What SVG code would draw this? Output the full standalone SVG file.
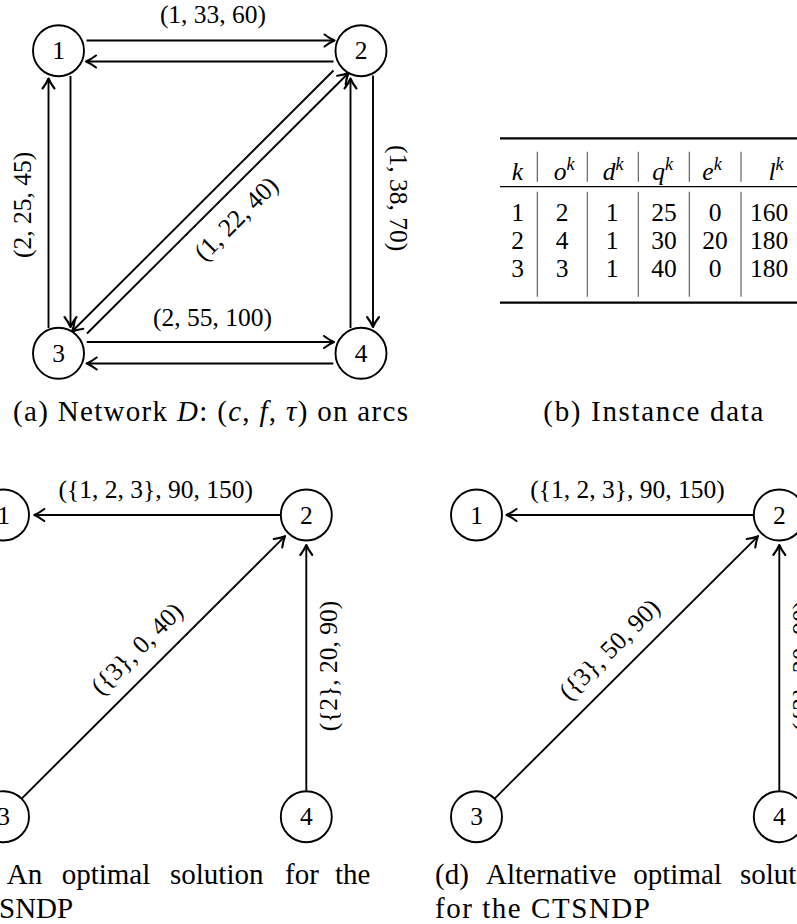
<svg xmlns="http://www.w3.org/2000/svg" width="797" height="924" viewBox="0 0 797 924">
<style>
.node circle{fill:#fff;stroke:#000;stroke-width:1.9}
text{font-family:"Liberation Serif","Times New Roman",serif;fill:#000}
.nl{font-size:25.5px;text-anchor:middle}
.lbl{font-size:25.5px;text-anchor:middle}
.cap{font-size:29px}
.tb{font-size:25.5px;text-anchor:middle}
.sup{font-size:18px}
.i{font-style:italic}
.e{fill:none;stroke:#000;stroke-width:1.9;marker-end:url(#arr)}
.sep{stroke:#555;stroke-width:1.1}
</style>
<defs>
<marker id="arr" markerUnits="userSpaceOnUse" orient="auto" refX="0" refY="0" markerWidth="16" markerHeight="18" viewBox="-13 -9 16 18" overflow="visible">
<path d="M-10,-6 Q-4.5,-1.8 0,0 Q-4.5,1.8 -10,6" fill="none" stroke="#000" stroke-width="2.1" stroke-linecap="round" stroke-linejoin="round"/>
</marker>
</defs>
<rect width="797" height="924" fill="#fff"/>

<!-- Panel (a) -->
<g id="a-edges">
<path class="e" d="M86.5,40.5 L334.5,40.5"/>
<path class="e" d="M333.5,61.5 L86,61.5"/>
<path class="e" d="M86.7,342 L334,342"/>
<path class="e" d="M333.3,363.5 L86.7,363.5"/>
<path class="e" d="M48.5,328 L48.5,78.5"/>
<path class="e" d="M70.5,76 L70.5,327"/>
<path class="e" d="M350.5,328 L350.5,78.5"/>
<path class="e" d="M373,75.5 L373,327"/>
<path class="e" d="M333.5,70.5 L72,331.5"/>
<path class="e" d="M87,333.5 L348.5,73"/>
</g>
<g id="a-n1" class="node"><circle cx="58.5" cy="50.7" r="25.5"/><text class="nl" x="58.5" y="59.3">1</text></g>
<g id="a-n2" class="node"><circle cx="361" cy="50.7" r="25.5"/><text class="nl" x="361" y="59.3">2</text></g>
<g id="a-n3" class="node"><circle cx="58.5" cy="353.3" r="25.5"/><text class="nl" x="58.5" y="361.9">3</text></g>
<g id="a-n4" class="node"><circle cx="361" cy="353.3" r="25.5"/><text class="nl" x="361" y="361.9">4</text></g>
<g id="a-labels">
<text class="lbl" x="213" y="22.5">(1, 33, 60)</text>
<text class="lbl" x="212.5" y="325.5">(2, 55, 100)</text>
<text class="lbl" transform="translate(30.5,205) rotate(-90)">(2, 25, 45)</text>
<text class="lbl" transform="translate(389.5,198) rotate(90)">(1, 38, 70)</text>
<text class="lbl" transform="translate(237.5,220) rotate(-45)" y="6.5">(1, 22, 40)</text>
</g>
<text class="cap" x="13" y="421" textLength="395" lengthAdjust="spacing">(a) Network <tspan class="i">D</tspan>: (<tspan class="i">c</tspan>, <tspan class="i">f</tspan>, <tspan class="i">τ</tspan>) on arcs</text>

<!-- Panel (b) table -->
<g id="b-table">
<line x1="500" y1="138.3" x2="800" y2="138.3" stroke="#000" stroke-width="2.2"/>
<line x1="500" y1="186.7" x2="800" y2="186.7" stroke="#000" stroke-width="1.3"/>
<line x1="500" y1="302.7" x2="800" y2="302.7" stroke="#000" stroke-width="2.2"/>
<g class="sep">
<line x1="537.3" y1="151.7" x2="537.3" y2="181.7"/><line x1="587.3" y1="151.7" x2="587.3" y2="181.7"/><line x1="638.3" y1="151.7" x2="638.3" y2="181.7"/><line x1="689.3" y1="151.7" x2="689.3" y2="181.7"/><line x1="741" y1="151.7" x2="741" y2="181.7"/>
<line x1="537.3" y1="191.7" x2="537.3" y2="296.7"/><line x1="587.3" y1="191.7" x2="587.3" y2="296.7"/><line x1="638.3" y1="191.7" x2="638.3" y2="296.7"/><line x1="689.3" y1="191.7" x2="689.3" y2="296.7"/><line x1="741" y1="191.7" x2="741" y2="296.7"/>
</g>
<text class="tb i" x="517.5" y="180">k</text>
<text class="tb" x="564" y="180"><tspan class="i">o</tspan><tspan class="i sup" dy="-10">k</tspan></text>
<text class="tb" x="613" y="180"><tspan class="i">d</tspan><tspan class="i sup" dy="-10">k</tspan></text>
<text class="tb" x="662.5" y="180"><tspan class="i">q</tspan><tspan class="i sup" dy="-10">k</tspan></text>
<text class="tb" x="712" y="180"><tspan class="i">e</tspan><tspan class="i sup" dy="-10">k</tspan></text>
<text class="tb" x="776" y="180"><tspan class="i">l</tspan><tspan class="i sup" dy="-10">k</tspan></text>
<text class="tb" x="517.5" y="221">1</text><text class="tb" x="562" y="221">2</text><text class="tb" x="612" y="221">1</text><text class="tb" x="664" y="221">25</text><text class="tb" x="715" y="221">0</text><text class="tb" x="769" y="221">160</text>
<text class="tb" x="517.5" y="249">2</text><text class="tb" x="562" y="249">4</text><text class="tb" x="612" y="249">1</text><text class="tb" x="664" y="249">30</text><text class="tb" x="715" y="249">20</text><text class="tb" x="769" y="249">180</text>
<text class="tb" x="517.5" y="277">3</text><text class="tb" x="562" y="277">3</text><text class="tb" x="612" y="277">1</text><text class="tb" x="664" y="277">40</text><text class="tb" x="715" y="277">0</text><text class="tb" x="769" y="277">180</text>
</g>
<text class="cap" x="543.3" y="421" textLength="220" lengthAdjust="spacing">(b) Instance data</text>

<!-- Panel (c) -->
<g id="c-edges">
<path class="e" d="M280.5,515 L34.3,515"/>
<path class="e" d="M21.9,798.3 L285.1,536.2"/>
<path class="e" d="M306.3,790.7 L306.3,545"/>
</g>
<g id="c-n1" class="node"><circle cx="3.5" cy="515" r="25.5"/><text class="nl" x="3.5" y="523.6">1</text></g>
<g id="c-n2" class="node"><circle cx="306.3" cy="515" r="25.5"/><text class="nl" x="306.3" y="523.6">2</text></g>
<g id="c-n3" class="node"><circle cx="3.5" cy="816.7" r="25.5"/><text class="nl" x="3.5" y="825.3">3</text></g>
<g id="c-n4" class="node"><circle cx="306.3" cy="816.7" r="25.5"/><text class="nl" x="306.3" y="825.3">4</text></g>
<g id="c-labels">
<text class="lbl" x="155.8" y="498">({1, 2, 3}, 90, 150)</text>
<text class="lbl" transform="translate(138.3,650) rotate(-45)" y="6.5">({3}, 0, 40)</text>
<text class="lbl" transform="translate(336.8,666) rotate(-90)">({2}, 20, 90)</text>
</g>
<text class="cap" y="884"><tspan x="6.7">An</tspan><tspan x="61.7">optimal</tspan><tspan x="170">solution</tspan><tspan x="285">for</tspan><tspan x="335">the</tspan></text>
<text class="cap" x="-1" y="918">SNDP</text>

<!-- Panel (d) -->
<g id="d-edges">
<path class="e" d="M753.5,515 L506.5,515"/>
<path class="e" d="M494.9,798.3 L758.1,536.2"/>
<path class="e" d="M779.3,790.7 L779.3,545"/>
</g>
<g id="d-n1" class="node"><circle cx="476.5" cy="515" r="25.5"/><text class="nl" x="476.5" y="523.6">1</text></g>
<g id="d-n2" class="node"><circle cx="779.3" cy="515" r="25.5"/><text class="nl" x="779.3" y="523.6">2</text></g>
<g id="d-n3" class="node"><circle cx="476.5" cy="816.7" r="25.5"/><text class="nl" x="476.5" y="825.3">3</text></g>
<g id="d-n4" class="node"><circle cx="779.3" cy="816.7" r="25.5"/><text class="nl" x="779.3" y="825.3">4</text></g>
<g id="d-labels">
<text class="lbl" x="627.5" y="498">({1, 2, 3}, 90, 150)</text>
<text class="lbl" transform="translate(610.8,650.8) rotate(-45)" y="6.5">({3}, 50, 90)</text>
<text class="lbl" transform="translate(809.8,666) rotate(-90)">({2}, 20, 90)</text>
</g>
<text class="cap" y="884"><tspan x="435">(d)</tspan><tspan x="486">Alternative</tspan><tspan x="633.3">optimal</tspan><tspan x="740">solution</tspan></text>
<text class="cap" x="435" y="918" textLength="215" lengthAdjust="spacing">for the CTSNDP</text>
</svg>
